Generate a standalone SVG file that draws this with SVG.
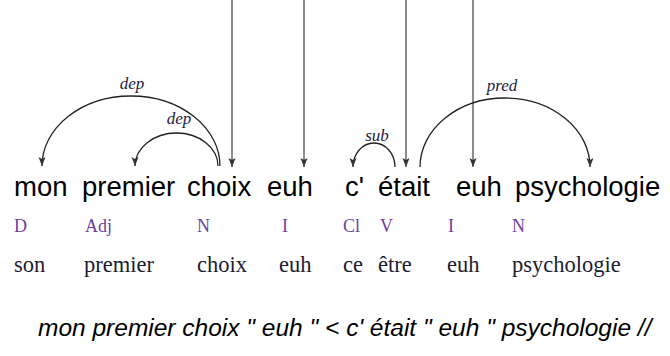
<svg xmlns="http://www.w3.org/2000/svg" width="670" height="356" viewBox="0 0 670 356">
<defs>
<style>
.w{font-family:"Liberation Sans",Arial,sans-serif;font-size:27.5px;fill:#000}
.pos{font-family:"Liberation Serif","Times New Roman",serif;font-size:18px;fill:#6b3fa0}
.lem{font-family:"Liberation Serif","Times New Roman",serif;font-size:22.5px;fill:#1c1c30}
.lab{font-family:"Liberation Serif","Times New Roman",serif;font-size:17px;font-style:italic;fill:#1c1c40;text-anchor:middle}
.arc{fill:none;stroke:#222;stroke-width:1.3;marker-end:url(#ah)}
.root{fill:none;stroke:#666;stroke-width:1.5;marker-end:url(#ah)}
.sent{font-family:"Liberation Sans",Arial,sans-serif;font-size:24.5px;font-style:italic;fill:#000}
</style>
<marker id="ah" markerUnits="userSpaceOnUse" markerWidth="10" markerHeight="10" viewBox="0 0 10 8" refX="9" refY="4" orient="auto">
<path d="M0,0.5 L9,4 L0,7.5 L2,4 z" fill="#333"/>
</marker>
</defs>
<rect width="670" height="356" fill="#fff"/>
<g id="connectors">
<line class="root" x1="232" y1="0" x2="232" y2="167"/>
<line class="root" x1="304" y1="0" x2="304" y2="167"/>
<line class="root" x1="406" y1="0" x2="406" y2="167"/>
<line class="root" x1="473" y1="0" x2="473" y2="167"/>
<path class="arc" d="M220,166 A89,70 0 0 0 42,166"/>
<path class="arc" d="M218,166 A41.5,33 0 0 0 135,166"/>
<path class="arc" d="M395,167 A21,24 0 0 0 353,167"/>
<path class="arc" d="M420,167 A85,69 0 0 1 590,167"/>
<text class="lab" x="132" y="89">dep</text>
<text class="lab" x="179" y="124">dep</text>
<text class="lab" x="377" y="141">sub</text>
<text class="lab" x="502" y="91">pred</text>
</g>
<g id="n-mon"><text class="w" x="14" y="196">mon</text><text class="pos" x="14" y="232">D</text><text class="lem" x="14" y="272">son</text></g>
<g id="n-premier"><text class="w" x="82" y="196">premier</text><text class="pos" x="85" y="232">Adj</text><text class="lem" x="84" y="272">premier</text></g>
<g id="n-choix"><text class="w" x="187" y="196">choix</text><text class="pos" x="197" y="232">N</text><text class="lem" x="197" y="272">choix</text></g>
<g id="n-euh1"><text class="w" x="267" y="196">euh</text><text class="pos" x="282" y="232">I</text><text class="lem" x="279" y="272">euh</text></g>
<g id="n-c"><text class="w" x="345" y="196">c'</text><text class="pos" x="343" y="232">Cl</text><text class="lem" x="343" y="272">ce</text></g>
<g id="n-etait"><text class="w" x="378" y="196">était</text><text class="pos" x="380" y="232">V</text><text class="lem" x="378" y="272">être</text></g>
<g id="n-euh2"><text class="w" x="456" y="196">euh</text><text class="pos" x="448" y="232">I</text><text class="lem" x="447" y="272">euh</text></g>
<g id="n-psychologie"><text class="w" x="515" y="196">psychologie</text><text class="pos" x="512" y="232">N</text><text class="lem" x="512" y="272">psychologie</text></g>
<text class="sent" x="38" y="336">mon premier choix " euh " &lt; c' était " euh " psychologie //</text>
</svg>
